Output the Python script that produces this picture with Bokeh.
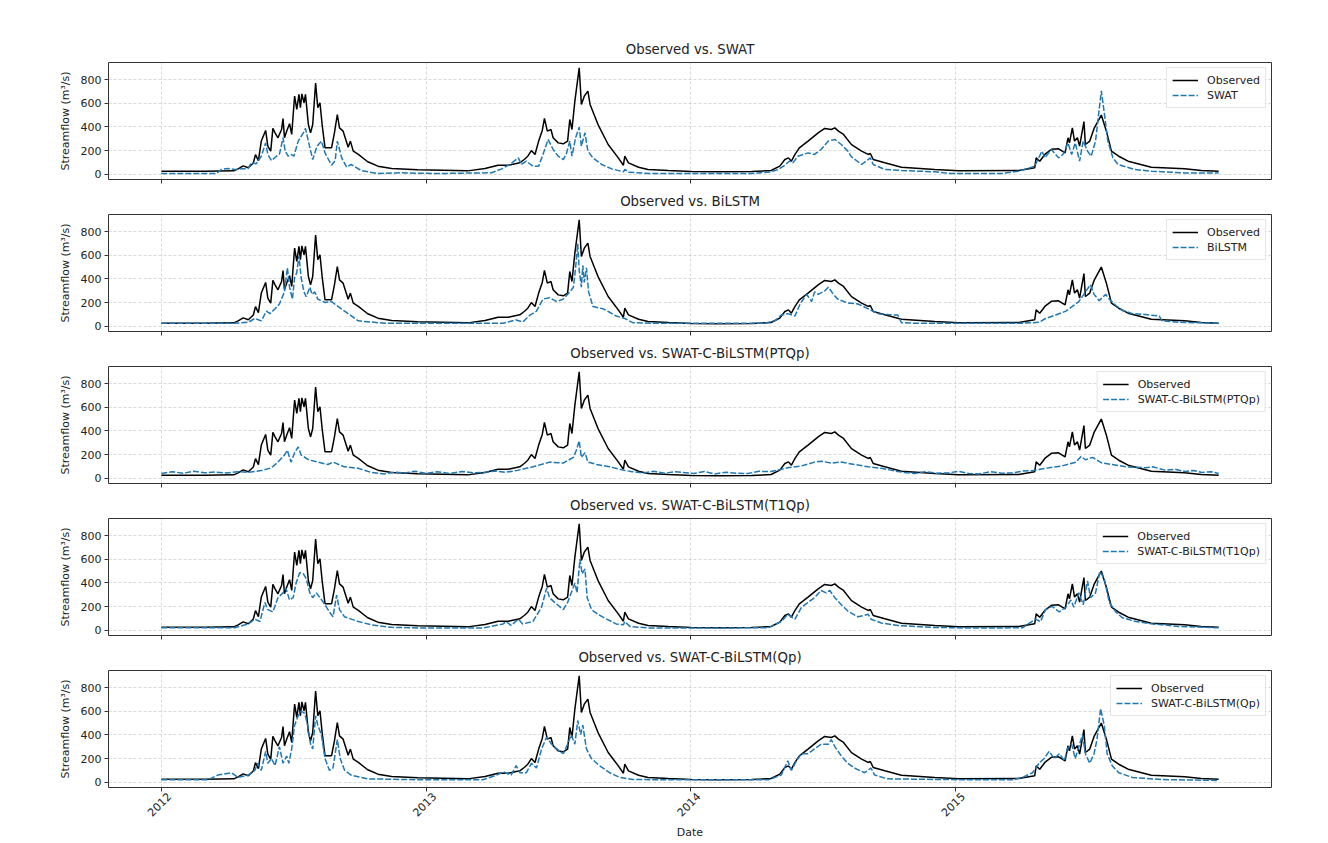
import math
from bokeh.plotting import figure
from bokeh.models import FixedTicker, Range1d, Legend, LegendItem, LinearAxis
from bokeh.layouts import column
from bokeh.embed import file_html
from bokeh.resources import INLINE

# x = day offset from 2012-01-01
YEAR_TICKS = [0, 366, 731, 1096]
YEAR_LABELS = ["2012", "2013", "2014", "2015"]
Y_TICKS = [0, 200, 400, 600, 800]

OBS_DAY = [0, 60, 100, 106, 113, 120, 127, 130, 134, 138, 144, 147, 151, 154, 157, 161, 166, 168, 170, 173,
           177, 180, 184, 187, 190, 192, 194, 197, 199, 203, 206, 209, 213, 216, 219, 222, 226, 235, 239, 243,
           246, 251, 258, 261, 265, 272, 285, 299, 318, 354, 423, 447, 465, 479, 495, 501, 506, 511, 516, 521,
           526, 529, 533, 538, 541, 548, 555, 561, 564, 567, 571, 577, 580, 584, 589, 592, 603, 617, 631, 638,
           640, 645, 659, 672, 700, 732, 769, 815, 842, 854, 861, 866, 870, 875, 881, 893, 907, 916, 925, 930,
           935, 942, 953, 967, 976, 979, 983, 999, 1022, 1068, 1101, 1184, 1206, 1208, 1213, 1220, 1229, 1239,
           1248, 1252, 1254, 1258, 1261, 1265, 1268, 1274, 1276, 1282, 1288, 1298, 1305, 1312, 1322, 1335,
           1367, 1413, 1436, 1460]
OBS_VAL = [25, 25, 28, 45, 70, 55, 95, 165, 115, 280, 370, 237, 195, 387, 350, 308, 378, 470, 308, 364,
           427, 336, 661, 548, 675, 562, 680, 604, 675, 420, 350, 420, 771, 562, 604, 420, 223, 223, 350, 505,
           392, 364, 228, 280, 195, 167, 105, 68, 48, 37, 28, 48, 76, 76, 96, 124, 152, 200, 167, 280,
           370, 472, 364, 378, 308, 265, 257, 280, 463, 378, 618, 900, 590, 660, 703, 590, 420, 251, 138, 76,
           152, 96, 59, 40, 31, 22, 20, 22, 31, 68, 124, 138, 110, 167, 223, 280, 350, 387, 378, 392,
           364, 336, 250, 195, 167, 175, 124, 96, 59, 40, 30, 32, 54, 138, 110, 167, 210, 215,
           180, 308, 265, 392, 280, 308, 237, 445, 251, 280, 387, 500, 364, 195, 152, 110,
           59, 45, 31, 25]

SWAT_DAY = [0, 76, 83, 92, 101, 110, 120, 124, 131, 138, 144, 147, 152, 159, 163, 168, 171, 175, 179, 183,
            189, 196, 199, 203, 209, 215, 221, 226, 235, 240, 243, 249, 256, 262, 276, 299, 330, 378, 442, 456,
            470, 481, 493, 497, 504, 513, 521, 527, 534, 541, 548, 555, 559, 564, 567, 572, 577, 580, 585, 589,
            596, 608, 622, 638, 640, 645, 677, 815, 842, 852, 861, 867, 872, 879, 893, 902, 911, 921, 930, 939,
            948, 953, 967, 979, 983, 999, 1022, 1068, 1091, 1160, 1184, 1206, 1216, 1220, 1229, 1239, 1245,
            1252, 1257, 1262, 1268, 1273, 1279, 1284, 1290, 1298, 1302, 1307, 1314, 1321, 1344, 1367, 1413, 1460]
SWAT_VAL = [5, 5, 40, 48, 40, 45, 48, 96, 88, 152, 265, 167, 115, 152, 167, 308, 195, 152, 167, 152,
            280, 350, 387, 280, 124, 237, 280, 180, 76, 115, 280, 138, 59, 82, 31, 5, 12, 5, 11, 12,
            45, 82, 138, 82, 110, 68, 68, 167, 294, 209, 152, 124, 167, 280, 152, 308, 398, 237, 350, 195,
            138, 82, 45, 20, 40, 17, 5, 5, 20, 40, 76, 110, 96, 152, 180, 167, 209, 280, 294, 251,
            195, 146, 82, 138, 82, 40, 31, 20, 5, 5, 25, 68, 195, 138, 210, 138, 167,
            265, 167, 265, 110, 280, 195, 152, 280, 705, 522, 280, 138, 82, 40, 25, 11, 11]

BILSTM_DAY = [0, 101, 120, 129, 138, 145, 150, 157, 163, 170, 174, 177, 181, 184, 187, 190, 193, 197, 200, 205,
              208, 212, 216, 226, 235, 242, 253, 272, 308, 366, 472, 490, 499, 509, 518, 527, 536, 546, 555,
              564, 569, 572, 575, 577, 580, 582, 584, 587, 590, 596, 610, 619, 628, 640, 651, 674, 833, 847,
              856, 865, 875, 882, 891, 898, 902, 907, 916, 921, 928, 934, 948, 962, 976, 990, 1003, 1017,
              1022, 1040, 1189, 1212, 1221, 1235, 1249, 1258, 1267, 1276, 1283, 1288, 1295, 1304, 1309, 1318,
              1327, 1341, 1359, 1378, 1382, 1405, 1460]
BILSTM_VAL = [25, 25, 33, 65, 45, 127, 106, 147, 188, 290, 494, 330, 229, 412, 453, 596, 412, 290, 249, 330,
              269, 290, 229, 200, 208, 175, 127, 45, 25, 25, 25, 53, 35, 94, 127, 229, 241, 208, 229,
              290, 330, 494, 698, 473, 330, 514, 371, 494, 290, 167, 147, 118, 86, 65, 30, 25, 25, 45,
              94, 106, 86, 188, 269, 208, 290, 269, 298, 330, 269, 229, 196, 188, 147, 106, 98, 94,
              30, 25, 25, 33, 65, 94, 127, 167, 208, 290, 351, 269, 216, 269, 229, 175,
              135, 106, 98, 86, 45, 33, 25]

PTQP_DAY = [0, 15, 30, 45, 60, 75, 90, 105, 120, 138, 152, 161, 170, 174, 179, 184, 189, 193, 203, 216,
            230, 237, 253, 272, 290, 308, 322, 336, 350, 366, 380, 398, 415, 430, 444, 460, 475, 490, 513, 536,
            555, 569, 573, 577, 580, 585, 589, 601, 619, 638, 650, 665, 680, 695, 710, 720, 735, 750, 764, 780,
            795, 810, 825, 842, 865, 884, 902, 911, 925, 939, 957, 976, 994, 1017, 1030, 1040, 1055, 1070, 1086,
            1100, 1115, 1129, 1145, 1160, 1175, 1190, 1203, 1221, 1244, 1263, 1270, 1276, 1286, 1299, 1313,
            1332, 1359, 1369, 1386, 1400, 1414, 1425, 1437, 1450, 1460]
PTQP_VAL = [40, 55, 42, 58, 45, 52, 44, 55, 50, 64, 88, 136, 196, 236, 136, 216, 264, 196, 156, 136,
            116, 136, 96, 84, 48, 36, 52, 44, 58, 40, 55, 40, 57, 45, 48, 60, 50, 64, 96, 136,
            128, 176, 236, 316, 176, 216, 136, 116, 96, 68, 55, 44, 58, 42, 55, 48, 40, 56, 36, 50,
            42, 40, 58, 56, 88, 104, 136, 144, 128, 136, 116, 96, 84, 56, 45, 40, 55, 42, 44,
            58, 40, 36, 55, 42, 44, 60, 64, 84, 104, 136, 184, 156, 176, 128, 116,
            96, 88, 96, 68, 75, 56, 65, 48, 55, 40]

T1QP_DAY = [0, 101, 120, 129, 136, 143, 147, 154, 161, 168, 172, 177, 182, 186, 191, 196, 200, 205, 209, 214,
            219, 226, 232, 237, 242, 246, 253, 272, 290, 318, 366, 444, 472, 476, 483, 493, 499, 513, 525, 532,
            536, 543, 555, 561, 566, 571, 574, 578, 581, 585, 588, 594, 603, 615, 628, 638, 640, 647, 674, 838,
            856, 865, 875, 884, 893, 902, 911, 918, 923, 930, 939, 948, 962, 976, 980, 994, 1017, 1063, 1119,
            1189, 1207, 1214, 1221, 1230, 1240, 1249, 1256, 1260, 1267, 1273, 1279, 1283, 1290, 1296, 1302,
            1309, 1318, 1327, 1346, 1369, 1405, 1460]
T1QP_VAL = [20, 20, 53, 93, 73, 235, 174, 154, 275, 316, 356, 255, 275, 397, 486, 478, 437, 316, 275, 316,
            275, 215, 154, 113, 296, 174, 113, 73, 45, 24, 18, 18, 53, 73, 40, 93, 53, 73, 194, 356,
            275, 235, 174, 235, 316, 397, 316, 600, 478, 518, 275, 174, 134, 93, 53, 45, 73, 32, 18, 20,
            73, 134, 93, 194, 235, 275, 336, 316, 336, 275, 215, 162, 113, 134, 93, 61, 40, 24, 18,
            20, 93, 73, 174, 202, 154, 194, 255, 194, 316, 215, 417, 275, 316, 498, 437,
            235, 154, 105, 73, 53, 32, 20]

QP_DAY = [0, 64, 78, 97, 106, 120, 129, 133, 138, 144, 147, 152, 157, 163, 168, 173, 176, 180, 184, 189,
          193, 198, 202, 206, 209, 213, 216, 221, 226, 232, 237, 243, 247, 253, 262, 285, 366, 444, 463, 472,
          483, 490, 495, 504, 511, 518, 525, 532, 539, 546, 555, 561, 566, 571, 575, 579, 582, 587, 594, 605,
          619, 633, 651, 752, 838, 856, 865, 870, 877, 884, 893, 902, 911, 921, 925, 930, 939, 948, 957, 971,
          980, 985, 1003, 1119, 1175, 1189, 1203, 1212, 1219, 1226, 1233, 1240, 1247, 1251, 1257, 1262, 1267,
          1272, 1276, 1282, 1288, 1292, 1297, 1302, 1306, 1313, 1322, 1341, 1382, 1460]
QP_VAL = [20, 20, 60, 80, 40, 60, 100, 160, 100, 261, 160, 200, 140, 301, 160, 221, 160, 281, 482, 562,
          602, 582, 482, 321, 281, 562, 482, 402, 200, 100, 120, 361, 200, 100, 60, 28, 20, 20, 60, 88,
          60, 140, 80, 80, 160, 120, 281, 381, 321, 281, 241, 321, 402, 321, 522, 402, 482, 281, 200, 140,
          80, 40, 22, 20, 20, 60, 181, 100, 181, 241, 241, 281, 321, 321, 361, 301, 221, 160, 120, 80,
          120, 60, 28, 20, 20, 40, 80, 160, 200, 261, 200, 241, 181, 281, 321, 200, 301,
          402, 241, 160, 241, 361, 622, 482, 241, 140, 80, 40, 22, 15]

MODELS = [
    ("SWAT", SWAT_DAY, SWAT_VAL),
    ("BiLSTM", BILSTM_DAY, BILSTM_VAL),
    ("SWAT-C-BiLSTM(PTQp)", PTQP_DAY, PTQP_VAL),
    ("SWAT-C-BiLSTM(T1Qp)", T1QP_DAY, T1QP_VAL),
    ("SWAT-C-BiLSTM(Qp)", QP_DAY, QP_VAL),
]

FONT = "DejaVu Sans"
TXT = "#222222"
LABEL_SHIFT = 11  # rotated year labels are centred on their tick (days)


def style_axis(ax):
    ax.axis_line_color = None
    ax.major_tick_out = 4
    ax.major_tick_in = 0
    ax.minor_tick_line_color = None
    ax.major_tick_line_color = "#333333"
    ax.major_label_text_font = FONT
    ax.major_label_text_font_size = "11px"
    ax.major_label_text_color = TXT
    ax.axis_label_text_font = FONT
    ax.axis_label_text_font_size = "11px"
    ax.axis_label_text_font_style = "normal"
    ax.axis_label_text_color = TXT


figs = []
n = len(MODELS)
for i, (name, mday, mval) in enumerate(MODELS):
    first = i == 0
    last = i == n - 1
    p = figure(
        frame_width=1163, frame_height=117,
        min_border_left=108, min_border_right=49,
        min_border_top=62 if first else 28,
        min_border_bottom=48 if last else 7,
        output_backend="svg", toolbar_location=None,
        x_range=Range1d(-73, 1533), y_range=Range1d(-45, 945),
        title="Observed vs. " + name,
    )
    p.title.align = "center"
    p.title.text_font = FONT
    p.title.text_font_size = "13.3px"
    p.title.text_font_style = "normal"
    p.title.text_color = TXT
    p.title.standoff = 11

    p.outline_line_color = "#333333"
    p.outline_line_width = 1
    p.background_fill_color = "white"
    p.border_fill_color = "white"

    style_axis(p.xaxis[0])
    style_axis(p.yaxis[0])

    # tick marks only on the main x axis
    p.xaxis.ticker = FixedTicker(ticks=YEAR_TICKS)
    p.xaxis.major_label_overrides = {t: l for t, l in zip(YEAR_TICKS, YEAR_LABELS)}
    p.xaxis.major_label_text_color = None
    p.xaxis.major_label_text_font_size = "1px"
    p.xaxis.major_label_standoff = 0

    if last:
        lab_ticks = [t + LABEL_SHIFT for t in YEAR_TICKS]
        lab_axis = LinearAxis(ticker=FixedTicker(ticks=lab_ticks),
                              major_label_overrides={t: l for t, l in zip(lab_ticks, YEAR_LABELS)})
        style_axis(lab_axis)
        lab_axis.major_tick_out = 0
        lab_axis.major_tick_line_color = None
        lab_axis.major_label_orientation = math.pi / 4
        lab_axis.major_label_standoff = 3
        lab_axis.axis_label = "Date"
        lab_axis.axis_label_standoff = 3
        p.add_layout(lab_axis, "below")

    p.yaxis.ticker = FixedTicker(ticks=Y_TICKS)
    p.yaxis.axis_label = "Streamflow (m³/s)"
    p.yaxis.major_label_standoff = 3
    p.yaxis.axis_label_standoff = 6

    p.grid.grid_line_color = "#b0b0b0"
    p.grid.grid_line_alpha = 0.6
    p.grid.grid_line_dash = "3 2"
    p.grid.grid_line_width = 0.8
    p.xgrid.ticker = FixedTicker(ticks=YEAR_TICKS)
    p.ygrid.ticker = FixedTicker(ticks=Y_TICKS)

    r_obs = p.line(OBS_DAY, OBS_VAL, line_color="black", line_width=1.5)
    r_mod = p.line(mday, mval, line_color="#1f77b4", line_width=1.5, line_dash="6 2")

    legend = Legend(items=[LegendItem(label="Observed", renderers=[r_obs]),
                           LegendItem(label=name, renderers=[r_mod])],
                    location="top_right")
    legend.label_text_font = FONT
    legend.label_text_font_size = "11px"
    legend.label_text_color = TXT
    legend.glyph_width = 26
    legend.glyph_height = 14
    legend.label_height = 14
    legend.label_standoff = 9
    legend.spacing = 1
    legend.padding = 5
    legend.margin = 5
    legend.border_line_color = "#cccccc"
    legend.border_line_width = 1
    legend.background_fill_alpha = 0.85
    p.add_layout(legend)
    figs.append(p)

layout = column(*figs, spacing=0)
with open("out.html", "w") as f:
    f.write(file_html(layout, INLINE))
